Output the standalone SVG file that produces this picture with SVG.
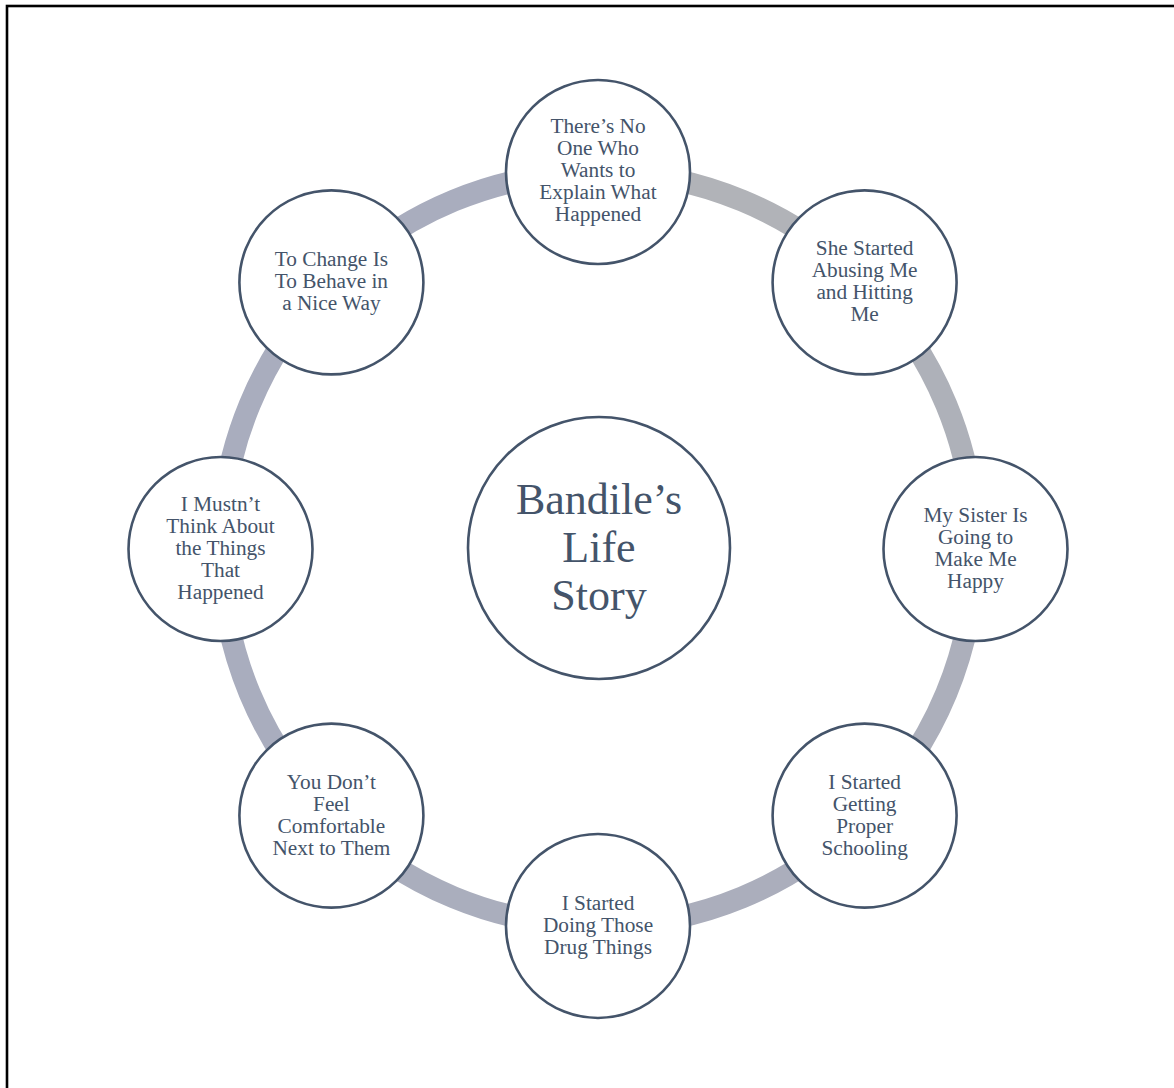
<svg xmlns="http://www.w3.org/2000/svg" width="1174" height="1088" viewBox="0 0 1174 1088">
  <style>
    .frame { fill: none; stroke: #000; stroke-width: 2.6; }
    .seg { fill: none; stroke-width: 22; }
    .node circle { fill: #fff; stroke: #44546a; stroke-width: 2.6; }
    .node text { font-family: "Liberation Serif", "Times New Roman", serif; fill: #44546a; text-anchor: middle; font-size: 21.3px; }
    .hub text { font-size: 44px; }
  </style>
  <rect width="1174" height="1088" fill="#fff"/>
  <rect class="frame" x="7" y="6" width="1300" height="1300"/>

  <!-- ring segments between neighbouring nodes (centre 598,549, radius 377) -->
  <g id="connectors">
    <path class="seg" stroke="#b1b3b8" d="M598,172 A377,377 0 0 1 864.6,282.4"/>
    <path class="seg" stroke="#aeb1b9" d="M864.6,282.4 A377,377 0 0 1 975,549"/>
    <path class="seg" stroke="#acafbb" d="M975,549 A377,377 0 0 1 864.6,815.6"/>
    <path class="seg" stroke="#abaebc" d="M864.6,815.6 A377,377 0 0 1 598,926"/>
    <path class="seg" stroke="#aaaebd" d="M598,926 A377,377 0 0 1 331.4,815.6"/>
    <path class="seg" stroke="#a9adbe" d="M331.4,815.6 A377,377 0 0 1 221,549"/>
    <path class="seg" stroke="#a9adbe" d="M221,549 A377,377 0 0 1 331.4,282.4"/>
    <path class="seg" stroke="#a9adbe" d="M331.4,282.4 A377,377 0 0 1 598,172"/>
  </g>

  <g id="hub" class="node hub">
    <circle cx="599" cy="548" r="131"/>
    <text x="599" y="514">Bandile’s</text>
    <text x="599" y="562">Life</text>
    <text x="599" y="610">Story</text>
  </g>

  <g id="n1" class="node">
    <circle cx="598" cy="172" r="92"/>
    <text x="598" y="133">There’s No</text>
    <text x="598" y="155">One Who</text>
    <text x="598" y="177">Wants to</text>
    <text x="598" y="199">Explain What</text>
    <text x="598" y="221">Happened</text>
  </g>

  <g id="n2" class="node">
    <circle cx="864.6" cy="282.4" r="92"/>
    <text x="864.6" y="255">She Started</text>
    <text x="864.6" y="277">Abusing Me</text>
    <text x="864.6" y="299">and Hitting</text>
    <text x="864.6" y="321">Me</text>
  </g>

  <g id="n3" class="node">
    <circle cx="975.5" cy="549" r="92"/>
    <text x="975.5" y="522">My Sister Is</text>
    <text x="975.5" y="544">Going to</text>
    <text x="975.5" y="566">Make Me</text>
    <text x="975.5" y="588">Happy</text>
  </g>

  <g id="n4" class="node">
    <circle cx="864.6" cy="815.6" r="92"/>
    <text x="864.6" y="789">I Started</text>
    <text x="864.6" y="811">Getting</text>
    <text x="864.6" y="833">Proper</text>
    <text x="864.6" y="855">Schooling</text>
  </g>

  <g id="n5" class="node">
    <circle cx="598" cy="926" r="92"/>
    <text x="598" y="910">I Started</text>
    <text x="598" y="932">Doing Those</text>
    <text x="598" y="954">Drug Things</text>
  </g>

  <g id="n6" class="node">
    <circle cx="331.4" cy="815.6" r="92"/>
    <text x="331.4" y="789">You Don’t</text>
    <text x="331.4" y="811">Feel</text>
    <text x="331.4" y="833">Comfortable</text>
    <text x="331.4" y="855">Next to Them</text>
  </g>

  <g id="n7" class="node">
    <circle cx="220.5" cy="549" r="92"/>
    <text x="220.5" y="511">I Mustn’t</text>
    <text x="220.5" y="533">Think About</text>
    <text x="220.5" y="555">the Things</text>
    <text x="220.5" y="577">That</text>
    <text x="220.5" y="599">Happened</text>
  </g>

  <g id="n8" class="node">
    <circle cx="331.4" cy="282.4" r="92"/>
    <text x="331.4" y="266">To Change Is</text>
    <text x="331.4" y="288">To Behave in</text>
    <text x="331.4" y="310">a Nice Way</text>
  </g>
</svg>
